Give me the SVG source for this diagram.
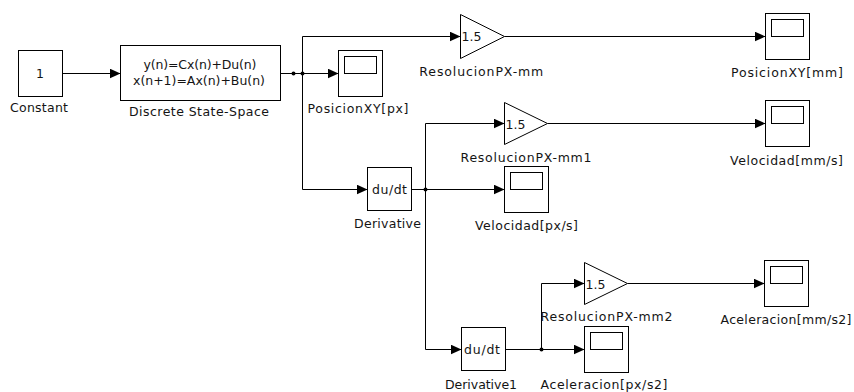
<svg xmlns="http://www.w3.org/2000/svg" xmlns:xlink="http://www.w3.org/1999/xlink" width="854" height="392" viewBox="0 0 854 392">
  <style>
    .blk { fill: #ffffff; stroke: #000000; stroke-width: 1; }
    .wire { fill: none; stroke: #000000; stroke-width: 1; marker-end: url(#arrow); }
    .dot { fill: #000000; }
    text { font-family: "DejaVu Sans", "Liberation Sans", Arial, sans-serif; font-size: 12.5px; fill: #141414; }
    .lbl { text-anchor: middle; }
    .in { text-anchor: middle; }
  </style>
  <defs>
    <marker id="arrow" markerUnits="userSpaceOnUse" markerWidth="12" markerHeight="11" refX="11" refY="5" orient="auto">
      <path d="M0,0 L11,5 L0,10 z" fill="#000000"/>
    </marker>
    <!-- scope icon: outer frame with display window -->
    <g id="scope-icon">
      <rect class="blk" x="0.5" y="0.5" width="44" height="46"/>
      <rect class="blk" x="6.5" y="6.5" width="32" height="17"/>
    </g>
  </defs>

  <rect x="0" y="0" width="854" height="392" fill="#ffffff"/>

  <!-- signal lines -->
  <g id="connectors">
    <path class="wire" d="M62.5,73.5 H120.5"/>
    <path class="wire" d="M280.5,73.5 H338.5"/>
    <path class="wire" d="M302.5,73.5 V36.5 H460.5"/>
    <path class="wire" d="M302.5,73.5 V189.5 H367.5"/>
    <path class="wire" d="M504.5,36.5 H765.5"/>
    <path class="wire" d="M411.5,189.5 H504.5"/>
    <path class="wire" d="M425.5,189.5 V123.5 H504.5"/>
    <path class="wire" d="M425.5,189.5 V349.5 H461.5"/>
    <path class="wire" d="M547.5,123.5 H765.5"/>
    <path class="wire" d="M505.5,349.5 H584.5"/>
    <path class="wire" d="M541.5,349.5 V283.5 H584.5"/>
    <path class="wire" d="M627.5,283.5 H764.5"/>
    <circle class="dot" cx="293.5" cy="73.5" r="2"/>
    <circle class="dot" cx="302.5" cy="73.5" r="2"/>
    <circle class="dot" cx="425.5" cy="189.5" r="2"/>
    <circle class="dot" cx="541.5" cy="349.5" r="2"/>
  </g>

  <g id="constant">
    <rect class="blk" x="18.5" y="50.5" width="44" height="46"/>
    <text class="in" x="40" y="77.5">1</text>
    <text class="lbl" x="39" y="111.5" textLength="58" lengthAdjust="spacing">Constant</text>
  </g>

  <g id="discrete-state-space">
    <rect class="blk" x="120.5" y="45.5" width="160" height="55"/>
    <text class="in" x="200" y="69" textLength="113" lengthAdjust="spacing">y(n)=Cx(n)+Du(n)</text>
    <text class="in" x="199" y="85" textLength="132" lengthAdjust="spacing">x(n+1)=Ax(n)+Bu(n)</text>
    <text class="lbl" x="199" y="116" textLength="140" lengthAdjust="spacing">Discrete State-Space</text>
  </g>

  <g id="scope-posicion-px">
    <use xlink:href="#scope-icon" x="338" y="50"/>
    <text class="lbl" x="358" y="113" textLength="101" lengthAdjust="spacing">PosicionXY[px]</text>
  </g>

  <g id="gain-resolucion">
    <path class="blk" d="M460.5,14.5 L504.5,36.5 L460.5,58.5 Z"/>
    <text x="461.5" y="41" textLength="20" lengthAdjust="spacing">1.5</text>
    <text class="lbl" x="481.3" y="76" textLength="124" lengthAdjust="spacing">ResolucionPX-mm</text>
  </g>

  <g id="scope-posicion-mm">
    <use xlink:href="#scope-icon" x="765" y="13"/>
    <text class="lbl" x="787" y="76.5" textLength="112" lengthAdjust="spacing">PosicionXY[mm]</text>
  </g>

  <g id="derivative">
    <rect class="blk" x="367.5" y="167.5" width="44" height="43"/>
    <text class="in" x="389.5" y="193.5" textLength="35" lengthAdjust="spacing">du/dt</text>
    <text class="lbl" x="387.5" y="228" textLength="67" lengthAdjust="spacing">Derivative</text>
  </g>

  <g id="gain-resolucion-1">
    <path class="blk" d="M504.5,102.5 L547.5,123.5 L504.5,144.5 Z"/>
    <text x="505.5" y="129" textLength="20" lengthAdjust="spacing">1.5</text>
    <text class="lbl" x="526" y="162" textLength="131" lengthAdjust="spacing">ResolucionPX-mm1</text>
  </g>

  <g id="scope-velocidad-px">
    <use xlink:href="#scope-icon" x="504" y="166"/>
    <text class="lbl" x="526.5" y="230" textLength="103" lengthAdjust="spacing">Velocidad[px/s]</text>
  </g>

  <g id="scope-velocidad-mm">
    <use xlink:href="#scope-icon" x="765" y="100"/>
    <text class="lbl" x="786.5" y="165" textLength="113" lengthAdjust="spacing">Velocidad[mm/s]</text>
  </g>

  <g id="derivative-1">
    <rect class="blk" x="461.5" y="327.5" width="44" height="43"/>
    <text class="in" x="482" y="353.5" textLength="36" lengthAdjust="spacing">du/dt</text>
    <text class="lbl" x="481" y="389" textLength="72" lengthAdjust="spacing">Derivative1</text>
  </g>

  <g id="gain-resolucion-2">
    <path class="blk" d="M584.5,262.5 L627.5,283.5 L584.5,304.5 Z"/>
    <text x="585.5" y="289" textLength="20" lengthAdjust="spacing">1.5</text>
    <text class="lbl" x="606.5" y="321" textLength="132" lengthAdjust="spacing">ResolucionPX-mm2</text>
  </g>

  <g id="scope-aceleracion-px">
    <use xlink:href="#scope-icon" x="584" y="326"/>
    <text class="lbl" x="604" y="389" textLength="127" lengthAdjust="spacing">Aceleracion[px/s2]</text>
  </g>

  <g id="scope-aceleracion-mm">
    <use xlink:href="#scope-icon" x="764" y="260"/>
    <text class="lbl" x="786" y="323.5" textLength="131" lengthAdjust="spacing">Aceleracion[mm/s2]</text>
  </g>
</svg>
